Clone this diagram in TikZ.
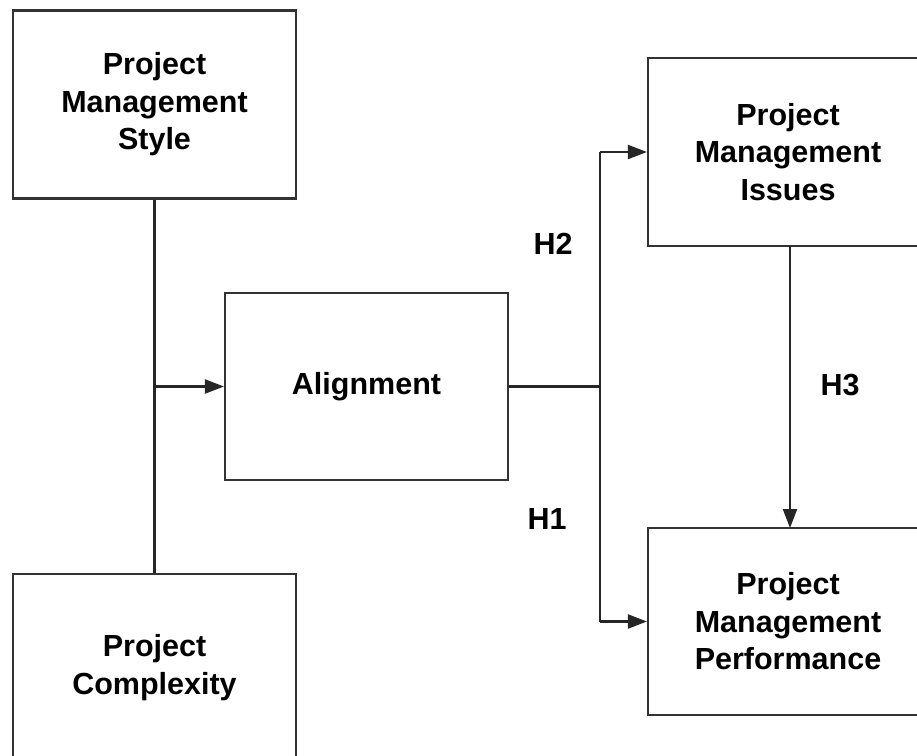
\documentclass[tikz,border=0pt]{standalone}
\usepackage{fontspec}
\setmainfont{Liberation Sans}
\usetikzlibrary{arrows.meta}
\begin{document}
\begin{tikzpicture}[x=1pt,y=-1pt,
  box/.style={draw=black!80,line width=2.2pt,minimum width=283pt,minimum height=188pt,inner sep=0pt,align=center,font=\bfseries\fontsize{30.5}{37.5}\selectfont},
  conn/.style={draw=black!85,line width=2.2pt},
  tip/.style={-{Triangle[length=19pt,width=14pt]}},
  hlab/.style={font=\bfseries\fontsize{30.5}{37.5}\selectfont,inner sep=0pt}]
\useasboundingbox (0,0) rectangle (917,755);
\clip (0,0) rectangle (917,755);
\fill[white] (0,0) rectangle (917,755);
\node[box] (style) at (154.5,104.5) {Project\\Management\\Style};
\node[box,minimum height=187pt] (cplx) at (154.5,667.5) {Project\\Complexity};
\node[box,minimum height=187pt] (align) at (366.5,386.5) {Alignment};
\node[box,minimum width=280pt] (issues) at (788,152) {Project\\Management\\Issues};
\node[box,minimum width=280pt,minimum height=187pt] (perf) at (788,621.5) {Project\\Management\\Performance};
\coordinate (ja) at (155,386.5);
\coordinate (jb) at (600,386.5);
\coordinate (jt) at (600,152);
\coordinate (jd) at (600,621.5);
\draw[conn] (style.south) -- (cplx.north);
\draw[conn,tip] (ja) -- (align.west);
\draw[conn] (align.east) -- (jb);
\draw[conn] (jt) -- (jd);
\draw[conn,tip] (jt) -- (issues.west);
\draw[conn,tip] (jd) -- (perf.west);
\coordinate (is) at (790,246);
\coordinate (pn) at (790,528);
\draw[conn,tip] (is) -- (pn);
\node[hlab] (h2) at (553,244) {H2};
\node[hlab] (h1) at (547,519) {H1};
\node[hlab] (h3) at (840,385) {H3};
\end{tikzpicture}
\end{document}
